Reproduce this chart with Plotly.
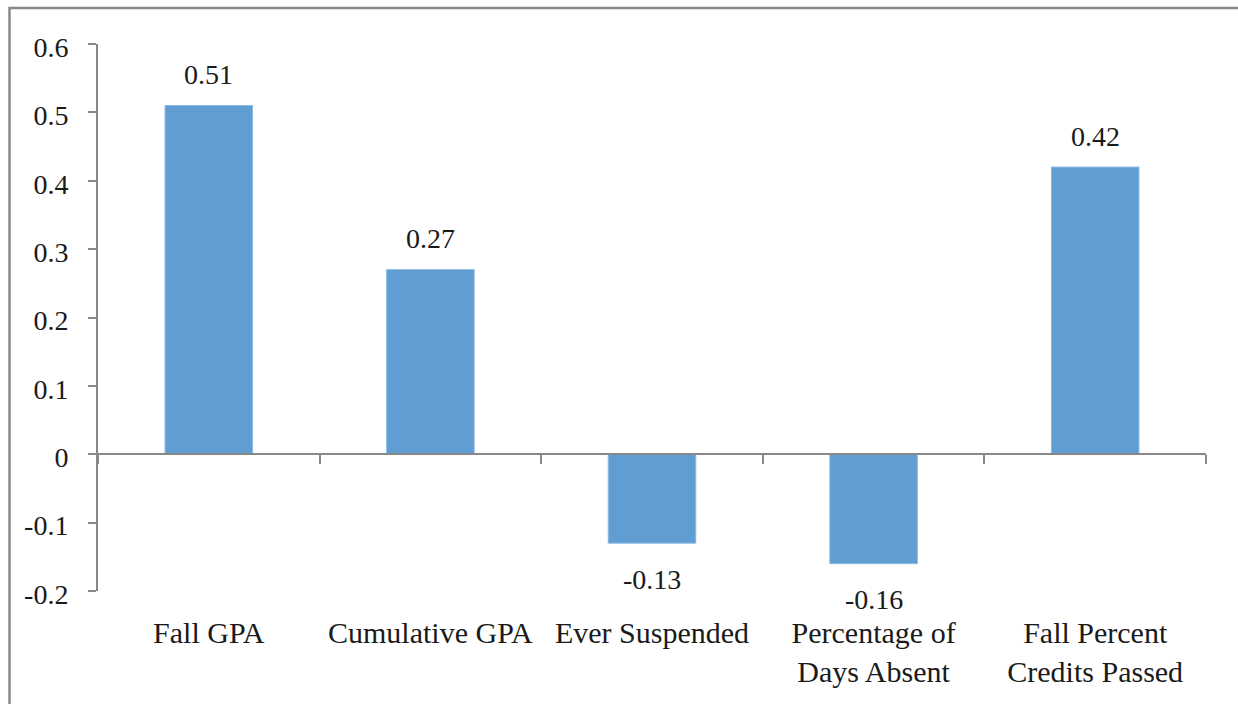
import plotly.graph_objects as go

# Outcome measures and their estimated effects
categories = ["Fall GPA", "Cumulative GPA", "Ever Suspended",
              "Percentage of<br>Days Absent", "Fall Percent<br>Credits Passed"]
effects = [0.51, 0.27, -0.13, -0.16, 0.42]
value_labels = ["0.51", "0.27", "-0.13", "-0.16", "0.42"]

y_tick_values = [0.6, 0.5, 0.4, 0.3, 0.2, 0.1, 0.0, -0.1, -0.2]
y_tick_labels = ["0.6", "0.5", "0.4", "0.3", "0.2", "0.1", "0", "-0.1", "-0.2"]

FONT = "Liberation Serif"
AXIS_GREY = "#888888"
BAR_BLUE = "#5f9dd3"

W, H = 1238, 704
ML, MR, MT, MB = 98, 32, 44, 113

fig = go.Figure()
fig.add_trace(go.Bar(
    x=categories,
    y=effects,
    marker=dict(color=BAR_BLUE, line=dict(color="#8cb9e2", width=1)),
    width=0.395,
    hoverinfo="skip",
    showlegend=False,
))

# Value labels above positive bars and below negative ones
for cat, val, txt in zip(categories, effects, value_labels):
    fig.add_annotation(
        x=cat, y=val, text=txt, showarrow=False,
        xref="x", yref="y", yanchor="middle",
        yshift=31 if val >= 0 else -36,
        font=dict(family=FONT, size=28, color="#1a1a1a"),
    )

# Category axis line drawn through zero, with ticks at category boundaries
ymin, ymax = -0.2, 0.6
zero_pos = (0 - ymin) / (ymax - ymin)

fig.update_layout(
    width=W, height=H,
    margin=dict(l=ML, r=MR, t=MT, b=MB, pad=0),
    paper_bgcolor="white",
    plot_bgcolor="white",
    font=dict(family=FONT, size=28, color="#1a1a1a"),
    bargap=0.6,
    xaxis=dict(
        type="category",
        showline=False, showgrid=False, zeroline=False,
        ticks="", ticklabelstandoff=21,
        tickfont=dict(family=FONT, size=30, color="#1a1a1a"),
    ),
    xaxis2=dict(
        type="category",
        matches="x",
        overlaying="x",
        anchor="free",
        position=zero_pos,
        side="bottom",
        showline=True, linecolor=AXIS_GREY, linewidth=2,
        ticks="outside", tickson="boundaries",
        ticklen=9, tickwidth=2, tickcolor=AXIS_GREY,
        showticklabels=False, showgrid=False, zeroline=False,
    ),
    yaxis=dict(
        range=[ymin, ymax],
        tickvals=y_tick_values, ticktext=y_tick_labels,
        showline=True, linecolor=AXIS_GREY, linewidth=2,
        ticks="outside", ticklen=8, tickwidth=2, tickcolor=AXIS_GREY,
        ticklabelstandoff=14, ticklabelshift=3,
        showgrid=False, zeroline=False,
        tickfont=dict(family=FONT, size=28, color="#1a1a1a"),
    ),
)

# Dummy trace so the zero-line category axis is rendered
fig.add_trace(go.Bar(x=categories, y=[None] * len(categories),
                     xaxis="x2", yaxis="y", showlegend=False, hoverinfo="skip"))

# Chart frame
pw, ph = W - ML - MR, H - MT - MB
fig.add_shape(
    type="rect", xref="paper", yref="paper",
    x0=(9.5 - ML) / pw, x1=(W + 20 - ML) / pw,
    y0=-(H + 20 - (H - MB)) / ph, y1=((H - MB) - 8) / ph,
    line=dict(color=AXIS_GREY, width=2.5), fillcolor="rgba(0,0,0,0)",
    layer="below",
)

fig.write_html("out.html")
